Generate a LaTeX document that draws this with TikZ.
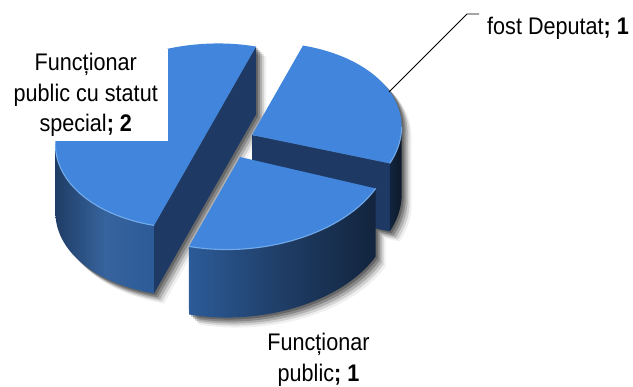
\documentclass[tikz,border=0pt]{standalone}
\usepackage{fontspec}
\setmainfont{Liberation Sans}[FakeStretch=0.9]
\definecolor{topblue}{HTML}{4186DC}
\definecolor{cutblue}{HTML}{1E3A64}
\definecolor{hlblue}{HTML}{7DB4F4}
\definecolor{wallA}{HTML}{2C5B98}
\definecolor{wallB}{HTML}{1F3D66}
\definecolor{wallC}{HTML}{12243D}
\definecolor{wallD}{HTML}{0C1828}
\newcommand\pieoutline{%
  \begin{scope}[shift={(252,-135)}]
    \fill (0,0) -- plot[domain=-26:67,samples=40] ({ex(\x)},{ey(\x)}) -- cycle;
    \fill plot[domain=-26:-3.1,samples=10] ({ex(\x)},{ey(\x)}) -- plot[domain=-3.1:-26,samples=10] ({ex(\x)},{ey(\x)-68}) -- cycle;
    \fill (0,0) -- ({ex(-26)},{ey(-26)}) -- ({ex(-26)},{ey(-26)-68}) -- (0,-68) -- cycle;
  \end{scope}
  \begin{scope}[shift={(205,-136)}]
    \fill plot[domain=67:247,samples=60] ({ex(\x)},{ey(\x)}) -- cycle;
    \fill plot[domain=176.9:247,samples=30] ({ex(\x)},{ey(\x)}) -- plot[domain=247:176.9,samples=30] ({ex(\x)},{ey(\x)-68}) -- cycle;
    \fill ({ex(67)},{ey(67)}) -- ({ex(247)},{ey(247)}) -- ({ex(247)},{ey(247)-68}) -- ({ex(67)},{ey(67)-68}) -- cycle;
  \end{scope}
  \begin{scope}[shift={(240,-157)}]
    \fill (0,0) -- plot[domain=247:332,samples=40] ({ex(\x)},{ey(\x)}) -- cycle;
    \fill plot[domain=247:332,samples=40] ({ex(\x)},{ey(\x)}) -- plot[domain=332:247,samples=40] ({ex(\x)},{ey(\x)-68}) -- cycle;
  \end{scope}}
\begin{document}
\begin{tikzpicture}[x=1pt,y=1pt,
  declare function={ex(\t)=150*cos(\t)*cos(5)-92*sin(\t)*sin(5); ey(\t)=150*cos(\t)*sin(5)+92*sin(\t)*cos(5);},
  topface/.style={fill=topblue},
  cutface/.style={fill=cutblue},
  hl/.style={draw=hlblue, line width=1.1pt, opacity=0.85},
  lbl/.style={font=\fontsize{24}{30.5}\selectfont, inner sep=0pt, align=center},
  leader/.style={draw=black, line width=0.9pt}]
\useasboundingbox (0,0) rectangle (633,-387);
% soft shadows
\foreach \s/\o in {2/0.25, 4/0.22, 6/0.17, 8/0.12, 10/0.06} {
  \begin{scope}[transparency group, opacity=\o, shift={(\s,-\s)}, fill=black!60]
    \pieoutline
  \end{scope}}
% slice: fost Deputat (back right)
\begin{scope}[shift={(252,-135)}]
  \fill[cutface] (0,0) -- ({ex(-26)},{ey(-26)}) -- ({ex(-26)},{ey(-26)-68}) -- (0,-68) -- cycle;
  \shade[left color=wallC, right color=wallD] plot[domain=-26:-3.1,samples=10] ({ex(\x)},{ey(\x)}) -- plot[domain=-3.1:-26,samples=10] ({ex(\x)},{ey(\x)-68}) -- cycle;
  \fill[topface] (0,0) -- plot[domain=-26:67,samples=40] ({ex(\x)},{ey(\x)}) -- cycle;
  \draw[hl] plot[domain=-26:-3.1,samples=10] ({ex(\x)},{ey(\x)});
\end{scope}
% slice: Functionar public cu statut special (left half)
\begin{scope}[shift={(205,-136)}]
  \fill[cutface] ({ex(67)},{ey(67)}) -- ({ex(247)},{ey(247)}) -- ({ex(247)},{ey(247)-68}) -- ({ex(67)},{ey(67)-68}) -- cycle;
  \shade[left color=wallB, right color=wallA, middle color=wallA!95!white] plot[domain=176.9:247,samples=30] ({ex(\x)},{ey(\x)}) -- plot[domain=247:176.9,samples=30] ({ex(\x)},{ey(\x)-68}) -- cycle;
  \fill[topface] plot[domain=67:247,samples=60] ({ex(\x)},{ey(\x)}) -- cycle;
  \draw[hl] plot[domain=176.9:247,samples=30] ({ex(\x)},{ey(\x)});
\end{scope}
% slice: Functionar public (front)
\begin{scope}[shift={(240,-157)}]
  \shade[left color=wallA, right color=wallC, middle color=wallB] plot[domain=247:332,samples=40] ({ex(\x)},{ey(\x)}) -- plot[domain=332:247,samples=40] ({ex(\x)},{ey(\x)-68}) -- cycle;
  \fill[topface] (0,0) -- plot[domain=247:332,samples=40] ({ex(\x)},{ey(\x)}) -- cycle;
  \draw[hl] plot[domain=247:332,samples=40] ({ex(\x)},{ey(\x)});
\end{scope}
% labels
\node[lbl, fill=white, inner xsep=10pt, inner ysep=4pt, anchor=south east] (special) at (168,-141)
  {Funcționar\\public cu statut\\special\textbf{; 2}};
\node[lbl, anchor=north] (public) at (318.5,-333) {Funcționar\\public\textbf{; 1}};
\node[lbl, anchor=base west] (deputat) at (487,-35) {fost Deputat\textbf{; 1}};
\coordinate (lead) at (389,-92);
\coordinate (elbow) at (467,-14);
\coordinate (tick) at (479,-14);
\draw[leader] (lead) -- (elbow) -- (tick);
\end{tikzpicture}
\end{document}
